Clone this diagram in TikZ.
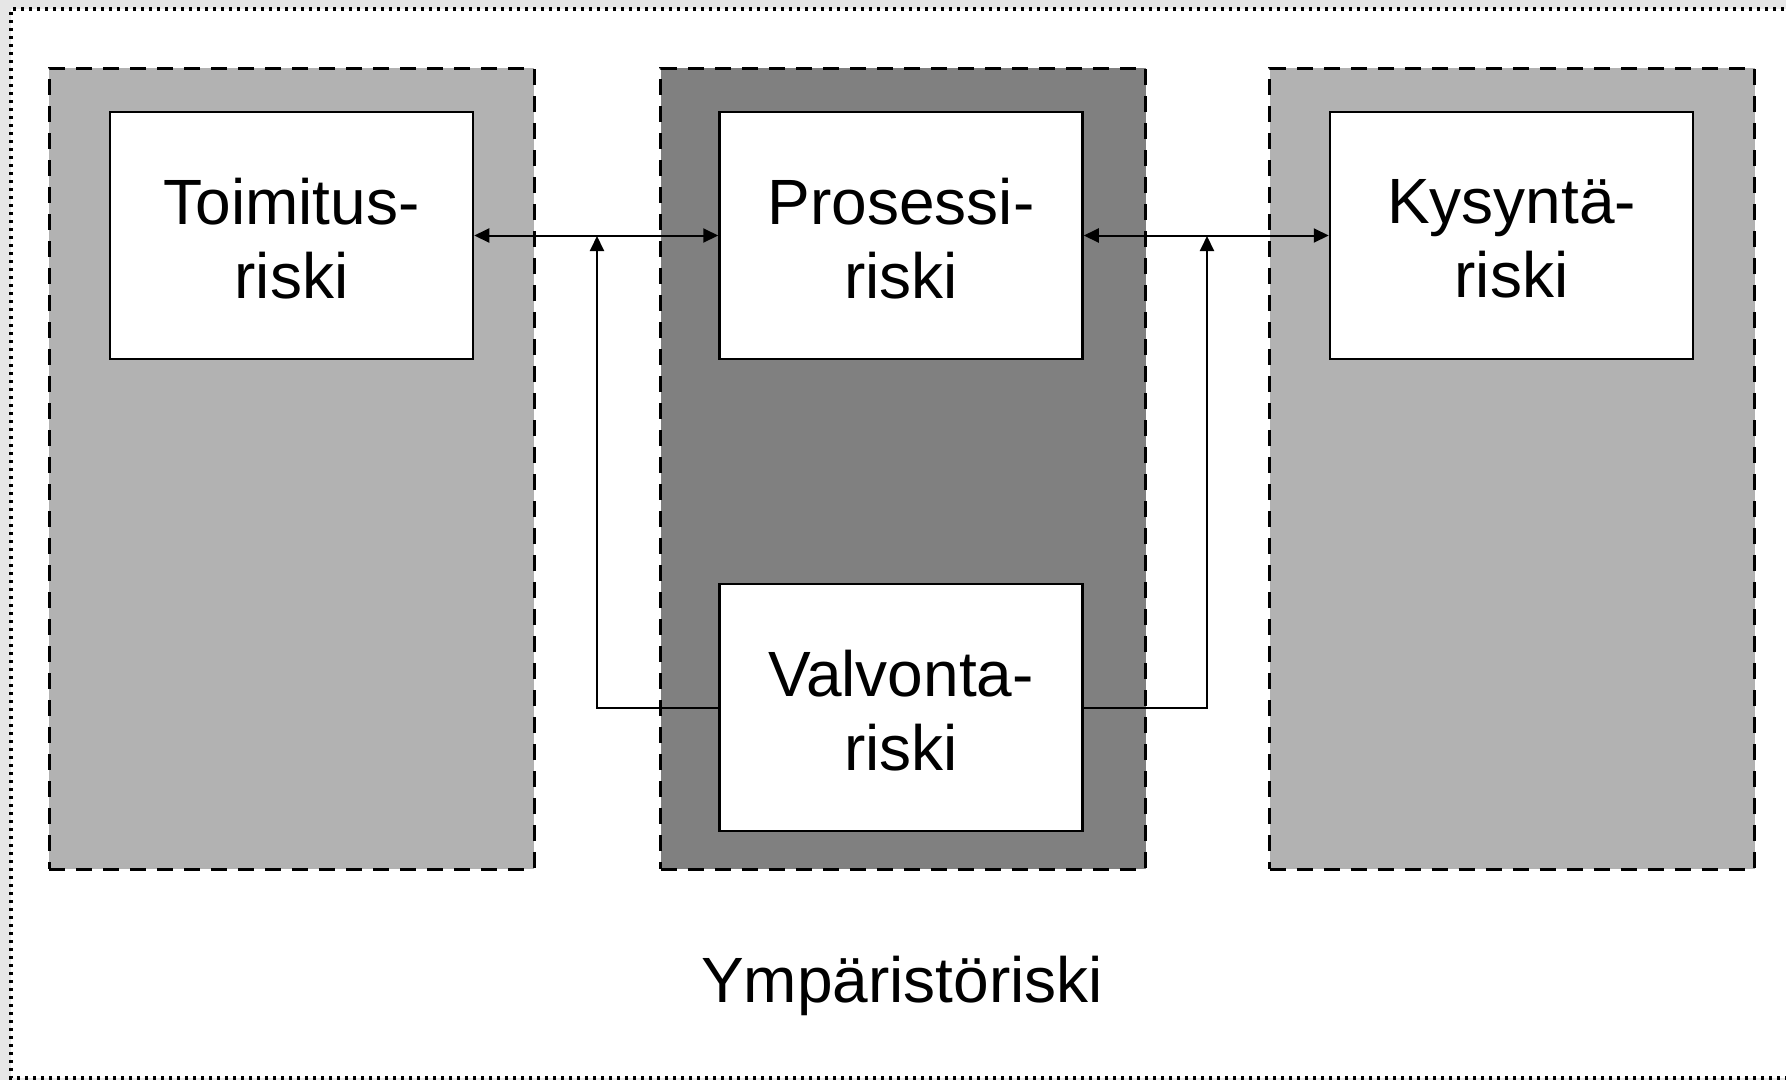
\documentclass[tikz,border=0pt]{standalone}
\usepackage{fontspec}
\setmainfont{Liberation Sans}
\usetikzlibrary{arrows.meta}
\definecolor{lightcol}{HTML}{B2B2B2}
\definecolor{darkcol}{HTML}{808080}
\definecolor{outside}{HTML}{E6E6E6}
\begin{document}
\begin{tikzpicture}[x=1pt,y=-1pt,
  column/.style={draw=black,line width=3pt,dash pattern=on 16pt off 11pt,minimum width=485pt,minimum height=801pt,inner sep=0pt},
  riskbox/.style={draw=black,fill=white,line width=2.5pt,minimum width=363pt,minimum height=247pt,inner sep=0pt},
  risktext/.style={inner sep=0pt,align=center,yshift=-3pt,font=\fontsize{64}{74}\selectfont},
  conn/.style={line width=2pt},
  tip/.style={-{Triangle[length=15pt,width=14pt]}},
  dtip/.style={{Triangle[length=15pt,width=14pt]}-{Triangle[length=15pt,width=14pt]}}
]
\useasboundingbox (0,0) rectangle (1786,1080);
\fill[outside] (0,0) rectangle (1786,1080);
\fill[white] (11,9) rectangle (1800,1078);
\draw[line width=3.2pt,dash pattern=on 3pt off 5pt] (1800,9) -- (11,9) -- (11,1078) -- (1800,1078);

\node[column,fill=lightcol] (colL) at (291.5,468.5) {};
\node[column,fill=darkcol] (colM) at (903,468.5) {};
\node[column,fill=lightcol] (colR) at (1512,468.5) {};

\node[riskbox] (toim) at (291.5,235.5) {};
\node[riskbox] (pros) at (901,235.5) {};
\node[riskbox] (kys) at (1511.5,235.5) {};
\node[riskbox] (valv) at (901,707.5) {};
\node[risktext] (toimt) at (toim.center) {Toimitus-\\riski};
\node[risktext] (prost) at (pros.center) {Prosessi-\\riski};
\node[risktext] (kyst) at (kys.center) {Kysyntä-\\riski};
\node[risktext] (valvt) at (valv.center) {Valvonta-\\riski};

\node[font=\fontsize{64}{74}\selectfont,anchor=base] (ymp) at (902,1002) {Ympäristöriski};

\draw[conn,dtip] (toim.east) -- (pros.west);
\draw[conn,dtip] (pros.east) -- (kys.west);
\coordinate (jl) at (597,236);
\coordinate (jr) at (1207,236);
\draw[conn,tip] (valv.west) -| (jl);
\draw[conn,tip] (valv.east) -| (jr);
\end{tikzpicture}
\end{document}
